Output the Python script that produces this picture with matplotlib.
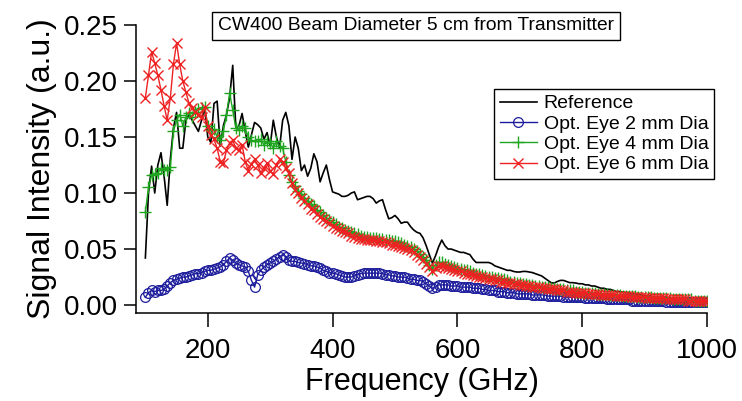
import numpy as np
import matplotlib
matplotlib.use("Agg")
import matplotlib.pyplot as plt

# ---------------- data (5 GHz steps, 100..1000 GHz) ----------------
freq = list(range(100, 1001, 5))

reference = [
    0.042, 0.100, 0.124, 0.100, 0.125, 0.136, 0.115, 0.089, 0.130, 0.158,
    0.172, 0.140, 0.140, 0.165, 0.170, 0.165, 0.160, 0.155, 0.165, 0.176,
    0.150, 0.145, 0.180, 0.182, 0.142, 0.160, 0.170, 0.185, 0.214, 0.158,
    0.160, 0.171, 0.155, 0.141, 0.152, 0.163, 0.161, 0.158, 0.148, 0.154,
    0.142, 0.165, 0.150, 0.140, 0.165, 0.172, 0.160, 0.130, 0.150, 0.140,
    0.120, 0.125, 0.115, 0.122, 0.135, 0.128, 0.110, 0.118, 0.125, 0.112,
    0.101, 0.100, 0.099, 0.097, 0.097, 0.098, 0.100, 0.101, 0.094, 0.095,
    0.096, 0.097, 0.097, 0.095, 0.091, 0.093, 0.094, 0.085, 0.077, 0.078,
    0.080, 0.077, 0.073, 0.074, 0.074, 0.070, 0.067, 0.065, 0.064, 0.060,
    0.053, 0.045, 0.0375, 0.044, 0.052, 0.058, 0.053, 0.050, 0.050, 0.049,
    0.048, 0.047, 0.047, 0.046, 0.045, 0.041, 0.038, 0.038, 0.038, 0.038,
    0.038, 0.037, 0.035, 0.034, 0.033, 0.032, 0.031, 0.031, 0.030, 0.0295,
    0.0295, 0.030, 0.030, 0.0295, 0.029, 0.028, 0.027, 0.026, 0.024, 0.022,
    0.020, 0.0196, 0.021, 0.022, 0.022, 0.021, 0.020, 0.020, 0.0196, 0.019,
    0.019, 0.018, 0.018, 0.017, 0.017, 0.016, 0.015, 0.015, 0.014, 0.014,
    0.013, 0.012, 0.012, 0.0116, 0.011, 0.011, 0.010, 0.010, 0.009, 0.009,
    0.008, 0.008, 0.008, 0.007, 0.007, 0.007, 0.006, 0.006, 0.006, 0.005,
    0.005, 0.005, 0.005, 0.004, 0.004, 0.004, 0.004, 0.003, 0.003, 0.003,
    0.003,
]

eye_2mm = [
    0.007, 0.011, 0.013, 0.012, 0.013, 0.013, 0.014, 0.017, 0.020, 0.022,
    0.023, 0.024, 0.025, 0.025, 0.026, 0.027, 0.028, 0.028, 0.029, 0.030,
    0.031, 0.031, 0.032, 0.033, 0.034, 0.036, 0.039, 0.042, 0.040, 0.0375,
    0.036, 0.035, 0.034, 0.030, 0.022, 0.016, 0.027, 0.031, 0.034, 0.036,
    0.0375, 0.039, 0.041, 0.043, 0.045, 0.043, 0.040, 0.039, 0.039, 0.038,
    0.0375, 0.037, 0.036, 0.035, 0.035, 0.034, 0.033, 0.031, 0.030, 0.029,
    0.0285, 0.028, 0.027, 0.026, 0.025, 0.025, 0.025, 0.026, 0.027, 0.028,
    0.0285, 0.0285, 0.0285, 0.0285, 0.0285, 0.0285, 0.028, 0.027, 0.027, 0.026,
    0.026, 0.025, 0.025, 0.025, 0.024, 0.023, 0.023, 0.022, 0.022, 0.021,
    0.019, 0.017, 0.015, 0.016, 0.018, 0.018, 0.018, 0.018, 0.017, 0.017,
    0.017, 0.016, 0.016, 0.016, 0.016, 0.015, 0.015, 0.015, 0.014, 0.014,
    0.013, 0.013, 0.013, 0.012, 0.012, 0.012, 0.011, 0.011, 0.011, 0.010,
    0.010, 0.010, 0.010, 0.010, 0.009, 0.009, 0.009, 0.009, 0.009, 0.008,
    0.008, 0.008, 0.008, 0.008, 0.007, 0.007, 0.007, 0.007, 0.007, 0.007,
    0.007, 0.006, 0.006, 0.006, 0.006, 0.006, 0.006, 0.006, 0.005, 0.005,
    0.005, 0.005, 0.005, 0.005, 0.005, 0.005, 0.004, 0.004, 0.004, 0.004,
    0.004, 0.004, 0.004, 0.004, 0.004, 0.004, 0.004, 0.003, 0.003, 0.003,
    0.003, 0.003, 0.003, 0.003, 0.003, 0.003, 0.003, 0.003, 0.003, 0.003,
    0.003,
]

eye_4mm = [
    0.083, 0.105, 0.116, 0.117, 0.118, 0.122, 0.121, 0.121, 0.123, 0.155,
    0.165, 0.170, 0.160, 0.168, 0.171, 0.168, 0.172, 0.175, 0.176, 0.177,
    0.160, 0.156, 0.157, 0.150, 0.147, 0.155, 0.170, 0.189, 0.174, 0.158,
    0.156, 0.160, 0.158, 0.150, 0.147, 0.146, 0.146, 0.148, 0.143, 0.146,
    0.145, 0.140, 0.146, 0.142, 0.140, 0.128, 0.116, 0.110, 0.106, 0.102,
    0.099, 0.096, 0.093, 0.090, 0.088, 0.085, 0.083, 0.080, 0.078, 0.076,
    0.074, 0.072, 0.070, 0.069, 0.067, 0.066, 0.065, 0.064, 0.063, 0.062,
    0.061, 0.061, 0.060, 0.060, 0.060, 0.059, 0.059, 0.058, 0.058, 0.057,
    0.057, 0.056, 0.055, 0.054, 0.053, 0.052, 0.050, 0.048, 0.046, 0.043,
    0.040, 0.036, 0.032, 0.036, 0.038, 0.038, 0.037, 0.036, 0.035, 0.034,
    0.033, 0.032, 0.031, 0.031, 0.030, 0.029, 0.028, 0.028, 0.027, 0.026,
    0.025, 0.025, 0.024, 0.024, 0.023, 0.023, 0.022, 0.021, 0.021, 0.020,
    0.020, 0.019, 0.019, 0.018, 0.018, 0.017, 0.017, 0.016, 0.016, 0.016,
    0.015, 0.015, 0.014, 0.014, 0.014, 0.013, 0.013, 0.013, 0.012, 0.012,
    0.012, 0.011, 0.011, 0.011, 0.011, 0.010, 0.010, 0.010, 0.010, 0.009,
    0.009, 0.009, 0.009, 0.008, 0.008, 0.008, 0.008, 0.008, 0.007, 0.007,
    0.007, 0.007, 0.007, 0.006, 0.006, 0.006, 0.006, 0.006, 0.006, 0.005,
    0.005, 0.005, 0.005, 0.005, 0.005, 0.005, 0.004, 0.004, 0.004, 0.004,
    0.004,
]

eye_6mm = [
    0.185, 0.205, 0.226, 0.216, 0.205, 0.192, 0.178, 0.165, 0.185, 0.215,
    0.234, 0.215, 0.200, 0.190, 0.180, 0.176, 0.172, 0.170, 0.168, 0.177,
    0.160, 0.152, 0.148, 0.140, 0.128, 0.127, 0.138, 0.145, 0.147, 0.140,
    0.138, 0.143, 0.128, 0.120, 0.126, 0.130, 0.125, 0.118, 0.122, 0.127,
    0.120, 0.117, 0.125, 0.130, 0.128, 0.122, 0.118, 0.109, 0.103, 0.100,
    0.096, 0.093, 0.090, 0.086, 0.085, 0.081, 0.079, 0.077, 0.075, 0.073,
    0.071, 0.069, 0.068, 0.066, 0.065, 0.064, 0.062, 0.061, 0.060, 0.059,
    0.059, 0.058, 0.058, 0.058, 0.057, 0.057, 0.056, 0.056, 0.055, 0.054,
    0.054, 0.053, 0.052, 0.051, 0.050, 0.049, 0.047, 0.045, 0.043, 0.040,
    0.037, 0.034, 0.030, 0.033, 0.035, 0.035, 0.034, 0.033, 0.032, 0.031,
    0.030, 0.030, 0.029, 0.028, 0.028, 0.027, 0.026, 0.025, 0.025, 0.024,
    0.023, 0.023, 0.022, 0.022, 0.021, 0.021, 0.020, 0.020, 0.019, 0.019,
    0.018, 0.018, 0.017, 0.017, 0.016, 0.016, 0.016, 0.015, 0.015, 0.014,
    0.014, 0.014, 0.013, 0.013, 0.013, 0.012, 0.012, 0.012, 0.011, 0.011,
    0.011, 0.011, 0.010, 0.010, 0.010, 0.010, 0.009, 0.009, 0.009, 0.009,
    0.009, 0.008, 0.008, 0.008, 0.008, 0.008, 0.007, 0.007, 0.007, 0.007,
    0.007, 0.006, 0.006, 0.006, 0.006, 0.006, 0.006, 0.005, 0.005, 0.005,
    0.005, 0.005, 0.005, 0.005, 0.004, 0.004, 0.004, 0.004, 0.004, 0.004,
    0.004,
]

labels = ["Reference", "Opt. Eye 2 mm Dia", "Opt. Eye 4 mm Dia", "Opt. Eye 6 mm Dia"]
title_text = "CW400 Beam Diameter 5 cm from Transmitter"
x_ticks = [200, 400, 600, 800, 1000]
y_ticks = [0.00, 0.05, 0.10, 0.15, 0.20, 0.25]

# ---------------- figure ----------------
plt.rcParams["font.family"] = ["Liberation Sans", "DejaVu Sans"]

W, H = 742, 401
fig = plt.figure(figsize=(W / 100, H / 100), dpi=100)
ax = fig.add_axes([136 / W, 1 - 313 / H, (707 - 136) / W, (313 - 25) / H])

blue = "#1c1c9c"
green = "#1fa51f"
red = "#ee2222"

ax.plot(freq, reference, color="black", lw=1.2, label=labels[0], zorder=2)
ax.plot(freq, eye_2mm, color=blue, lw=1.0, marker="o", ms=7, mfc="none",
        mec=blue, mew=0.9, label=labels[1], zorder=3)
ax.plot(freq, eye_4mm, color=green, lw=1.0, marker="+", ms=8, mew=1.0,
        label=labels[2], zorder=4)
ax.plot(freq, eye_6mm, color=red, lw=1.0, marker="x", ms=7, mew=1.0,
        label=labels[3], zorder=5)

ax.set_xlim(85, 1000)
ax.set_ylim(-0.0071, 0.25)
ax.set_xticks(x_ticks)
ax.set_yticks(y_ticks)
ax.set_yticklabels([f"{v:.2f}" for v in y_ticks])

for s in ["top", "right"]:
    ax.spines[s].set_visible(False)
for s in ["left", "bottom"]:
    ax.spines[s].set_linewidth(1.1)

ax.tick_params(axis="both", direction="out", width=1.1, labelsize=20, color="black")
ax.tick_params(axis="y", length=9, pad=4)
ax.tick_params(axis="x", length=10, pad=8)

ax.set_xlabel("Frequency (GHz)", fontsize=22, labelpad=2)
ax.set_ylabel("Signal Intensity (a.u.)", fontsize=23, labelpad=5)

leg = ax.legend(loc="upper left", bbox_to_anchor=(494 / W, 1 - 89 / H),
                bbox_transform=fig.transFigure, fontsize=14, frameon=True,
                fancybox=False, framealpha=1, edgecolor="black",
                handlelength=1.9, handletextpad=0.35, labelspacing=0.14,
                borderpad=0.3, borderaxespad=0, numpoints=1)
leg.get_frame().set_linewidth(1.0)

fig.text(416 / W, 1 - 26 / H, title_text, fontsize=13.9, ha="center", va="center",
         bbox=dict(boxstyle="square,pad=0.3", fc="white", ec="black", lw=1.0))

fig.savefig("out.png", dpi=100)
